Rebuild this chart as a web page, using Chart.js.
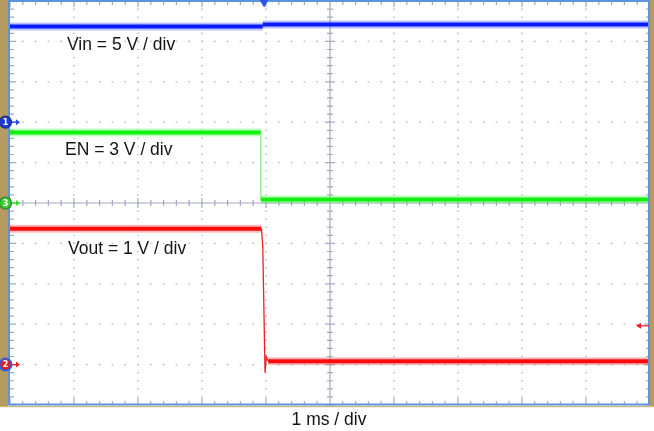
<!DOCTYPE html>
<html><head><meta charset="utf-8">
<script src="https://cdn.jsdelivr.net/npm/chart.js@4"></script>
<style>html,body{margin:0;padding:0;background:#fff;overflow:hidden;}</style>
</head><body><canvas id="c" width="654" height="431"></canvas>
<script>
// ---- data ----
// time in ms relative to screen centre (1 ms / div, 10 div across)
const vinTime = [-5, -1.05, -1.05, 5];
const vinVolts = [11.85, 11.85, 12.1, 12.1];
const enTime = [-5, -1.08, -1.08, 5];
const enVolts = [5.24, 5.24, 0.26, 0.26];
const voutTime = [-5, -1.07, -1.05, -1.015, -0.995, -0.965, 5];
const voutVolts = [3.36, 3.36, 2.9, -0.2, 0.2, 0.08, 0.08];
const channelLabels = ['Vin = 5 V / div', 'EN = 3 V / div', 'Vout = 1 V / div'];
const channelNumbers = ['1', '3', '2'];
const voltsPerDiv = [5, 3, 1];
const groundDiv = [2, 0, -4];
const timeLabel = '1 ms / div';
const triggerTime = -1.03;
const triggerLevelVolts = 0.96; // Vout channel

const toDiv = (v, i) => groundDiv[i] + v / voltsPerDiv[i];
const series = (t, v, i) => t.map((x, k) => ({x: x, y: toDiv(v[k], i)}));
const isSteep = c => Math.abs(c.p1.y - c.p0.y) > 2 * Math.abs(c.p1.x - c.p0.x);

const colors = [
  {main: '#0a1cff', halo: 'rgba(60,80,255,0.35)', thin: '#3040ff', dot: '#1a3cd8', ring: '#22347a', arrow: '#2a48f0'},
  {main: '#12f012', halo: 'rgba(60,255,60,0.35)', thin: '#80f080', dot: '#2fd02f', ring: '#2a8a2a', arrow: '#30e030'},
  {main: '#ff0a0a', halo: 'rgba(255,60,60,0.35)', thin: '#f02020', dot: '#e81a1a', ring: '#2f5fe0', arrow: '#f02020'}
];
const seriesData = [series(vinTime, vinVolts, 0), series(enTime, enVolts, 1), series(voutTime, voutVolts, 2)];

const datasets = [];
seriesData.forEach((d, i) => {
  datasets.push({
    data: d, order: 1, borderColor: colors[i].main, borderWidth: 4, pointRadius: 0, tension: 0,
    segment: {borderWidth: c => isSteep(c) ? 1.3 : 4, borderColor: c => isSteep(c) ? colors[i].thin : colors[i].main}
  });
  datasets.push({
    data: d, order: 2, borderColor: colors[i].halo, borderWidth: 8, pointRadius: 0, tension: 0,
    segment: {borderWidth: c => isSteep(c) ? 1 : 8, borderColor: c => isSteep(c) ? 'rgba(0,0,0,0)' : colors[i].halo}
  });
});

const scopePlugin = {
  id: 'scope',
  beforeDatasetsDraw(chart) {
    const ctx = chart.ctx, a = chart.chartArea, xs = chart.scales.x, ys = chart.scales.y;
    ctx.save();
    ctx.fillStyle = '#ffffff';
    ctx.fillRect(0, 0, chart.width, chart.height);
    // dotted graticule
    ctx.fillStyle = '#b7bccb';
    for (let i = -4; i <= 4; i++) {
      if (i === 0) continue;
      const px = xs.getPixelForValue(i);
      for (let j = -24; j <= 24; j++) {
        const py = ys.getPixelForValue(j * 0.2);
        ctx.fillRect(px - 0.75, py - 0.75, 1.5, 1.5);
      }
      const py = ys.getPixelForValue(i);
      for (let j = -24; j <= 24; j++) {
        const qx = xs.getPixelForValue(j * 0.2);
        ctx.fillRect(qx - 0.75, py - 0.75, 1.5, 1.5);
      }
    }
    // centre axes with ticks
    ctx.strokeStyle = '#a3a9c0';
    ctx.lineWidth = 1.2;
    const cx = xs.getPixelForValue(0), cy = ys.getPixelForValue(0);
    ctx.beginPath();
    ctx.moveTo(cx, a.top); ctx.lineTo(cx, a.bottom);
    ctx.moveTo(a.left, cy); ctx.lineTo(a.right, cy);
    for (let j = -25; j <= 25; j++) {
      const py = ys.getPixelForValue(j * 0.2);
      const w = (j % 5 === 0) ? 5 : 3;
      ctx.moveTo(cx - w, py); ctx.lineTo(cx + w, py);
      ctx.moveTo(a.left, py); ctx.lineTo(a.left + (j % 5 === 0 ? 6 : 4), py);
      ctx.moveTo(a.right, py); ctx.lineTo(a.right - (j % 5 === 0 ? 6 : 4), py);
      const qx = xs.getPixelForValue(j * 0.2);
      ctx.moveTo(qx, cy - w); ctx.lineTo(qx, cy + w);
      ctx.moveTo(qx, a.top); ctx.lineTo(qx, a.top + (j % 5 === 0 ? 6 : 4));
      ctx.moveTo(qx, a.bottom); ctx.lineTo(qx, a.bottom - (j % 5 === 0 ? 7 : 4));
    }
    ctx.stroke();
    ctx.restore();
  },
  afterDatasetsDraw(chart) {
    const ctx = chart.ctx, a = chart.chartArea, xs = chart.scales.x, ys = chart.scales.y;
    ctx.save();
    // frame
    ctx.fillStyle = '#b59b62';
    ctx.fillRect(0, 0, a.left - 2, a.bottom + 1);
    ctx.fillRect(a.right, 0, chart.width - a.right, a.bottom + 1);
    ctx.fillStyle = '#cdb978';
    ctx.fillRect(0, a.bottom + 1, chart.width, 1.2);
    ctx.strokeStyle = '#5f92dc';
    ctx.lineWidth = 2;
    ctx.strokeRect(a.left - 1, a.top, a.right - a.left, a.bottom - a.top - 0.5);
    // trigger position marker
    const tx = xs.getPixelForValue(triggerTime);
    ctx.fillStyle = '#2e55e8';
    ctx.beginPath(); ctx.moveTo(tx - 4.5, 0); ctx.lineTo(tx + 4.5, 0); ctx.lineTo(tx, 7.5); ctx.closePath(); ctx.fill();
    // trigger level marker (right)
    const ty = ys.getPixelForValue(toDiv(triggerLevelVolts, 2));
    ctx.strokeStyle = '#f02020'; ctx.fillStyle = '#f02020'; ctx.lineWidth = 1.2;
    ctx.beginPath(); ctx.moveTo(a.right - 1, ty); ctx.lineTo(a.right - 10, ty); ctx.stroke();
    ctx.beginPath(); ctx.moveTo(a.right - 14, ty); ctx.lineTo(a.right - 9, ty - 3); ctx.lineTo(a.right - 9, ty + 3); ctx.closePath(); ctx.fill();
    // channel ground markers
    for (let i = 0; i < 3; i++) {
      const py = ys.getPixelForValue(groundDiv[i]);
      const c = colors[i];
      ctx.strokeStyle = c.arrow; ctx.fillStyle = c.arrow; ctx.lineWidth = 1.3;
      ctx.beginPath(); ctx.moveTo(a.left + 1, py); ctx.lineTo(a.left + 7, py); ctx.stroke();
      ctx.beginPath(); ctx.moveTo(a.left + 10, py); ctx.lineTo(a.left + 6, py - 3); ctx.lineTo(a.left + 6, py + 3); ctx.closePath(); ctx.fill();
      ctx.beginPath(); ctx.arc(5.5, py, 6, 0, Math.PI * 2);
      ctx.fillStyle = c.dot; ctx.fill();
      ctx.lineWidth = i === 2 ? 2 : 1.2; ctx.strokeStyle = c.ring; ctx.stroke();
      ctx.fillStyle = '#ffffff';
      ctx.font = 'bold 8px "DejaVu Sans"';
      ctx.textAlign = 'center'; ctx.textBaseline = 'middle';
      ctx.fillText(channelNumbers[i], 5.5, py + 0.5);
    }
    // labels
    ctx.fillStyle = '#141414';
    ctx.font = '17.5px "Liberation Sans"';
    ctx.textAlign = 'left'; ctx.textBaseline = 'alphabetic';
    const lx = [67, 65, 68];
    const base = [50, 155, 254];
    channelLabels.forEach((t, i) => ctx.fillText(t, lx[i], base[i]));
    ctx.textAlign = 'center';
    ctx.fillText(timeLabel, xs.getPixelForValue(0) - 1, 425);
    ctx.restore();
  }
};

new Chart(document.getElementById('c'), {
  type: 'line',
  data: {datasets: datasets},
  options: {
    responsive: false, animation: false, devicePixelRatio: 1, events: [],
    layout: {padding: {left: 10, right: 4, top: 1, bottom: 26}},
    plugins: {legend: {display: false}, tooltip: {enabled: false}},
    scales: {
      x: {type: 'linear', min: -5, max: 5, display: false},
      y: {type: 'linear', min: -5, max: 5, display: false}
    }
  },
  plugins: [scopePlugin]
});
</script></body></html>
